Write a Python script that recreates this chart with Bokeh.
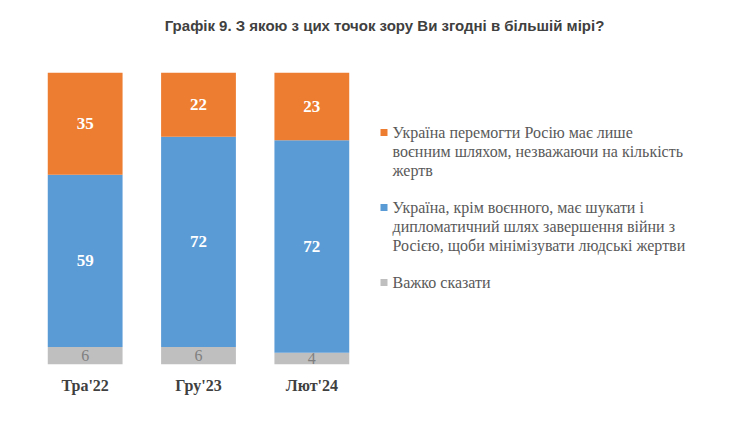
from bokeh.plotting import figure
from bokeh.layouts import column, row
from bokeh.models import ColumnDataSource, Range1d
from bokeh.core.properties import value
from bokeh.embed import file_html
from bokeh.resources import INLINE

# ---- data ----
title_text = "Графік 9. З якою з цих точок зору Ви згодні в більшій мірі?"
categories = ["Тра'22", "Гру'23", "Лют'24"]
military = [35, 22, 23]
diplomacy = [59, 72, 72]
hard_to_say = [6, 6, 4]
legend_lines = [
    ["Україна перемогти Росію має лише",
     "воєнним шляхом, незважаючи на кількість",
     "жертв"],
    ["Україна, крім воєнного, має шукати і",
     "дипломатичний шлях завершення війни з",
     "Росією, щоби мінімізувати людські жертви"],
    ["Важко сказати"],
]
colors = ["#ED7D31", "#5B9BD5", "#BFBFBF"]  # military, diplomacy, hard

SERIF = "Liberation Serif"
SANS = "Liberation Sans"

W = 724
TITLE_H = 50
ROW_H = 367
TOP_B = 22
BOT_B = 53
BAR_W = 370

# 100% stacked: each column scaled to its own total
totals = [m + d + h for m, d, h in zip(military, diplomacy, hard_to_say)]
mil_pct = [m / t * 100 for m, t in zip(military, totals)]
dip_pct = [d / t * 100 for d, t in zip(diplomacy, totals)]
hard_pct = [h / t * 100 for h, t in zip(hard_to_say, totals)]

# ---- title figure ----
tf = figure(width=W, height=TITLE_H, x_range=Range1d(0, W), y_range=Range1d(TITLE_H, 0),
            output_backend="svg", toolbar_location=None,
            x_axis_location=None, y_axis_location=None,
            min_border_left=0, min_border_right=0,
            min_border_top=0, min_border_bottom=0)
tf.outline_line_color = None
tf.xgrid.visible = False
tf.ygrid.visible = False
tf.text(x=[384], y=[25], text=[title_text], text_align="center",
        text_baseline="middle", text_font=value(SANS), text_font_style="bold",
        text_font_size="15px", text_color="#404040")

# ---- bar figure ----
src = ColumnDataSource(dict(cat=categories, mil=mil_pct, dip=dip_pct, hard=hard_pct))
p = figure(width=BAR_W, height=ROW_H, x_range=categories, y_range=Range1d(0, 100),
           output_backend="svg", toolbar_location=None, y_axis_location=None,
           min_border_left=28, min_border_right=2, min_border_top=TOP_B,
           min_border_bottom=BOT_B)
p.vbar_stack(["hard", "dip", "mil"], x="cat", width=0.66,
             color=[colors[2], colors[1], colors[0]], line_color=None, source=src)
p.outline_line_color = None
p.xgrid.visible = False
p.ygrid.visible = False
ax = p.xaxis[0]
ax.axis_line_color = None
ax.major_tick_line_color = None
ax.minor_tick_line_color = None
ax.major_tick_out = 0
ax.major_tick_in = 0
ax.major_label_standoff = 12
ax.major_label_text_font = SERIF
ax.major_label_text_font_style = "bold"
ax.major_label_text_font_size = "16px"
ax.major_label_text_color = "#404040"

mid_hard = [h / 2 for h in hard_pct]
mid_dip = [h + d / 2 for h, d in zip(hard_pct, dip_pct)]
mid_mil = [h + d + m / 2 for h, d, m in zip(hard_pct, dip_pct, mil_pct)]

p.text(x=categories, y=mid_mil, text=[str(v) for v in military], text_align="center",
       text_baseline="middle", text_font=value(SERIF), text_font_style="bold",
       text_font_size="17px", text_color="white")
p.text(x=categories, y=mid_dip, text=[str(v) for v in diplomacy], text_align="center",
       text_baseline="middle", text_font=value(SERIF), text_font_style="bold",
       text_font_size="17px", text_color="white")
p.text(x=categories, y=mid_hard, text=[str(v) for v in hard_to_say], text_align="center",
       text_baseline="middle", text_font=value(SERIF),
       text_font_size="16px", text_color="#7F7F7F")

# ---- legend figure (ranges expressed in page pixels) ----
LEG_W = W - BAR_W
frame_top = TITLE_H + TOP_B
frame_bot = TITLE_H + ROW_H - BOT_B
lf = figure(width=LEG_W, height=ROW_H, x_range=Range1d(BAR_W, W),
            y_range=Range1d(frame_bot, frame_top),
            output_backend="svg", toolbar_location=None,
            x_axis_location=None, y_axis_location=None,
            min_border_left=0, min_border_right=0, min_border_top=TOP_B,
            min_border_bottom=BOT_B)
lf.outline_line_color = None
lf.xgrid.visible = False
lf.ygrid.visible = False
entry_y0 = 132
entry_step = 75
line_step = 19
sq_x, sq_y, tx, ty, txt = [], [], [], [], []
for i, lines in enumerate(legend_lines):
    y0 = entry_y0 + i * entry_step
    sq_x.append(383.5)
    sq_y.append(y0)
    for j, ln in enumerate(lines):
        tx.append(392)
        ty.append(y0 + j * line_step)
        txt.append(ln)
lf.rect(x=sq_x, y=sq_y, width=7, height=7, color=colors, line_color=None)
lf.text(x=tx, y=ty, text=txt, text_align="left", text_baseline="middle",
        text_font=value(SERIF), text_font_size="16px", text_color="#595959")

layout = column(tf, row(p, lf, spacing=0), spacing=0)
open("out.html", "w").write(file_html(layout, INLINE))
